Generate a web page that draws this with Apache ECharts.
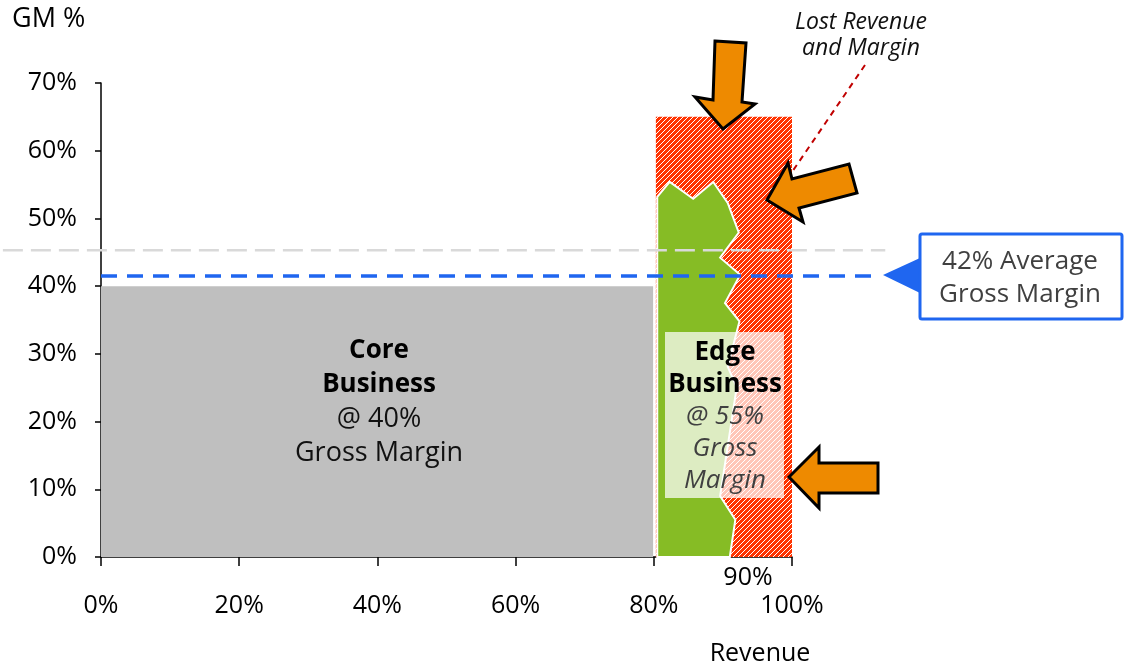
<!DOCTYPE html>
<html>
<head>
<meta charset="utf-8">
<script src="https://cdn.jsdelivr.net/npm/echarts@6/dist/echarts.min.js"></script>
<style>
  html, body { margin: 0; padding: 0; background: #fff; }
  #chart { width: 1129px; height: 667px; }
</style>
</head>
<body>
<div id="chart"></div>
<script>
// revenue share (%) on x, gross margin (%) on y
const xTicks = [0, 20, 40, 60, 80, 100];
const yTicks = [0, 10, 20, 30, 40, 50, 60, 70];

const coreSpan = [0, 79.9];
const coreGM = 40;

const lostSpan = [80.3, 100];
const lostGM = 65;

// jagged outline of the edge business block
const edgeX = [80.5, 80.5, 82.3, 85.7, 88.6, 90.7, 92.3, 89.6, 92.5, 90.3, 92.4, 90.7, 92.0, 89.6, 91.8, 91.0];
const edgeY = [0, 53.2, 55.4, 52.9, 55.4, 52.3, 47.9, 44.2, 41.7, 37.5, 34.8, 28.1, 25.1, 9.0, 5.5, 0];

const avgGM = 41.5;
const avgSpan = [0, 112];
const refGM = 45.3;
const refSpan = [-14.2, 113.5];

const FONT = 'Open Sans';

// plot box, in px
const G = { left: 101, right: 337, top: 83, bottom: 110 };
const pxPerUnit = (1129 - G.left - G.right) / 100;

// red hatch
function hatch() {
  const c = document.createElement('canvas');
  c.width = 5; c.height = 5;
  const g = c.getContext('2d');
  g.fillStyle = '#ff3300';
  g.fillRect(0, 0, 5, 5);
  g.strokeStyle = '#ffffff';
  g.lineWidth = 1;
  g.beginPath();
  g.moveTo(-1, 6); g.lineTo(6, -1);
  g.moveTo(-1, 1); g.lineTo(1, -1);
  g.moveTo(4, 6); g.lineTo(6, 4);
  g.stroke();
  return c;
}
const hatchFill = { image: hatch(), repeat: 'repeat' };

function rectItem(fill) {
  return function (params, api) {
    const p0 = api.coord([api.value(0), api.value(2)]);
    const p1 = api.coord([api.value(1), 0]);
    return {
      type: 'rect',
      shape: { x: p0[0], y: p0[1], width: p1[0] - p0[0], height: p1[1] - p0[1] },
      style: { fill: fill }
    };
  };
}

const chart = echarts.init(document.getElementById('chart'));

const hiddenAxis = {
  show: false, splitLine: { show: false }, axisLine: { show: false },
  axisTick: { show: false }, axisLabel: { show: false }
};

const option = {
  animation: false,
  textStyle: { fontFamily: FONT },
  grid: [
    G,
    // same scale, stretched over the full width so the guide lines can run past the axes
    { left: 0, right: 0, top: G.top, bottom: G.bottom }
  ],
  xAxis: [
    {
      type: 'value', gridIndex: 0, min: xTicks[0], max: xTicks[xTicks.length - 1], interval: 20,
      splitLine: { show: false },
      axisLine: { show: true, lineStyle: { color: '#000', width: 1.5 } },
      axisTick: { show: true, length: 9, lineStyle: { color: '#000', width: 1.5 } },
      axisLabel: { formatter: '{value}%', color: '#000', fontSize: 25, margin: 36, fontFamily: FONT }
    },
    Object.assign({ type: 'value', gridIndex: 1, min: -G.left / pxPerUnit, max: (1129 - G.left) / pxPerUnit }, hiddenAxis)
  ],
  yAxis: [
    {
      type: 'value', gridIndex: 0, min: yTicks[0], max: yTicks[yTicks.length - 1], interval: 10,
      splitLine: { show: false },
      axisLine: { show: true, lineStyle: { color: '#000', width: 1.5 } },
      axisTick: { show: true, length: 6, lineStyle: { color: '#000', width: 1.5 } },
      axisLabel: { formatter: '{value}%', color: '#000', fontSize: 25, margin: 24, fontFamily: FONT }
    },
    Object.assign({ type: 'value', gridIndex: 1, min: yTicks[0], max: yTicks[yTicks.length - 1] }, hiddenAxis)
  ],
  series: [
    {
      type: 'custom', name: 'Lost', z: 1,
      renderItem: rectItem(hatchFill),
      data: [[lostSpan[0], lostSpan[1], lostGM]]
    },
    {
      type: 'custom', name: 'Core', z: 2,
      renderItem: rectItem('#bfbfbf'),
      data: [[coreSpan[0], coreSpan[1], coreGM]]
    },
    {
      type: 'custom', name: 'Edge', z: 3,
      renderItem: function (params, api) {
        if (params.dataIndex !== 0) return null;
        const pts = edgeX.map((x, i) => api.coord([x, edgeY[i]]));
        return {
          type: 'polygon',
          shape: { points: pts },
          style: { fill: '#86bc25', stroke: '#ffffff', lineWidth: 2 }
        };
      },
      data: edgeX.map((x, i) => [x, edgeY[i]])
    },
    {
      type: 'line', name: 'ref', z: 4, xAxisIndex: 1, yAxisIndex: 1, symbol: 'none', silent: true,
      lineStyle: { color: '#d9d9d9', width: 2.5, type: [20, 8] },
      data: [[refSpan[0], refGM], [refSpan[1], refGM]]
    },
    {
      type: 'line', name: 'avg', z: 5, xAxisIndex: 1, yAxisIndex: 1, symbol: 'none', silent: true,
      lineStyle: { color: '#1f66f0', width: 3.5, type: [16, 10] },
      data: [[avgSpan[0], avgGM], [avgSpan[1], avgGM]]
    }
  ],
  graphic: [
    { type: 'text', left: 12, top: 6, style: { text: 'GM %', font: '27px "Open Sans"', fill: '#000' } },
    { type: 'text', x: 760, y: 654, style: { text: 'Revenue', font: '25px "Open Sans"', fill: '#000', align: 'center', verticalAlign: 'middle' } },
    { type: 'text', x: 748, y: 578, style: { text: '90%', font: '25px "Open Sans"', fill: '#000', align: 'center', verticalAlign: 'middle' } },
    // core label
    {
      type: 'text', x: 379, y: 402, z: 10,
      style: {
        text: '{b|Core}\n{b|Business}\n{n|@ 40%}\n{n|Gross Margin}',
        align: 'center', verticalAlign: 'middle',
        rich: {
          b: { fontFamily: FONT, fontSize: 26, fontWeight: 'bold', fill: '#000', lineHeight: 34, align: 'center' },
          n: { fontFamily: FONT, fontSize: 27, fill: '#111', lineHeight: 34, align: 'center' }
        }
      }
    },
    // edge label
    { type: 'rect', z: 9, shape: { x: 665, y: 332, width: 119, height: 166 }, style: { fill: 'rgba(255,255,255,0.72)' } },
    {
      type: 'text', x: 725, y: 417, z: 10,
      style: {
        text: '{b|Edge}\n{b|Business}\n{i|@ 55%}\n{i|Gross}\n{i|Margin}',
        align: 'center', verticalAlign: 'middle',
        rich: {
          b: { fontFamily: FONT, fontSize: 26, fontWeight: 'bold', fill: '#000', lineHeight: 32, align: 'center' },
          i: { fontFamily: FONT, fontSize: 26, fontStyle: 'italic', fill: '#404040', lineHeight: 32, align: 'center' }
        }
      }
    },
    // lost revenue note
    {
      type: 'text', x: 861, y: 35, z: 10,
      style: {
        text: 'Lost Revenue\nand Margin', align: 'center', verticalAlign: 'middle',
        font: 'italic 23px "Open Sans"', fill: '#111', lineHeight: 26
      }
    },
    { type: 'line', z: 10, shape: { x1: 865, y1: 65, x2: 792, y2: 172 }, style: { stroke: '#c00000', lineWidth: 2, lineDash: [6, 5] } },
    // arrows
    {
      type: 'polygon', z: 11,
      shape: { points: [[715, 41], [746, 43], [742, 102], [755, 104], [723, 129], [695, 97], [713, 100]] },
      style: { fill: '#ee8a00', stroke: '#000', lineWidth: 3, lineJoin: 'miter' }
    },
    {
      type: 'polygon', z: 11,
      shape: { points: [[767, 200], [788, 163], [792, 179], [849, 164], [857, 193], [799, 208], [803, 222]] },
      style: { fill: '#ee8a00', stroke: '#000', lineWidth: 3, lineJoin: 'miter' }
    },
    {
      type: 'polygon', z: 11,
      shape: { points: [[789, 477], [819, 447], [819, 463], [878, 463], [878, 493], [819, 493], [819, 508]] },
      style: { fill: '#ee8a00', stroke: '#000', lineWidth: 3, lineJoin: 'miter' }
    },
    // average callout
    { type: 'polygon', z: 11, shape: { points: [[883, 275], [920, 258], [920, 293]] }, style: { fill: '#1f66f0' } },
    { type: 'rect', z: 11, shape: { x: 920, y: 234, width: 202, height: 85, r: 2 }, style: { fill: '#fff', stroke: '#1f66f0', lineWidth: 3 } },
    {
      type: 'text', x: 1020, y: 278, z: 12,
      style: {
        text: '42% Average\nGross Margin', align: 'center', verticalAlign: 'middle',
        font: '26px "Open Sans"', fill: '#404040', lineHeight: 33
      }
    }
  ]
};

chart.setOption(option);
</script>
</body>
</html>
